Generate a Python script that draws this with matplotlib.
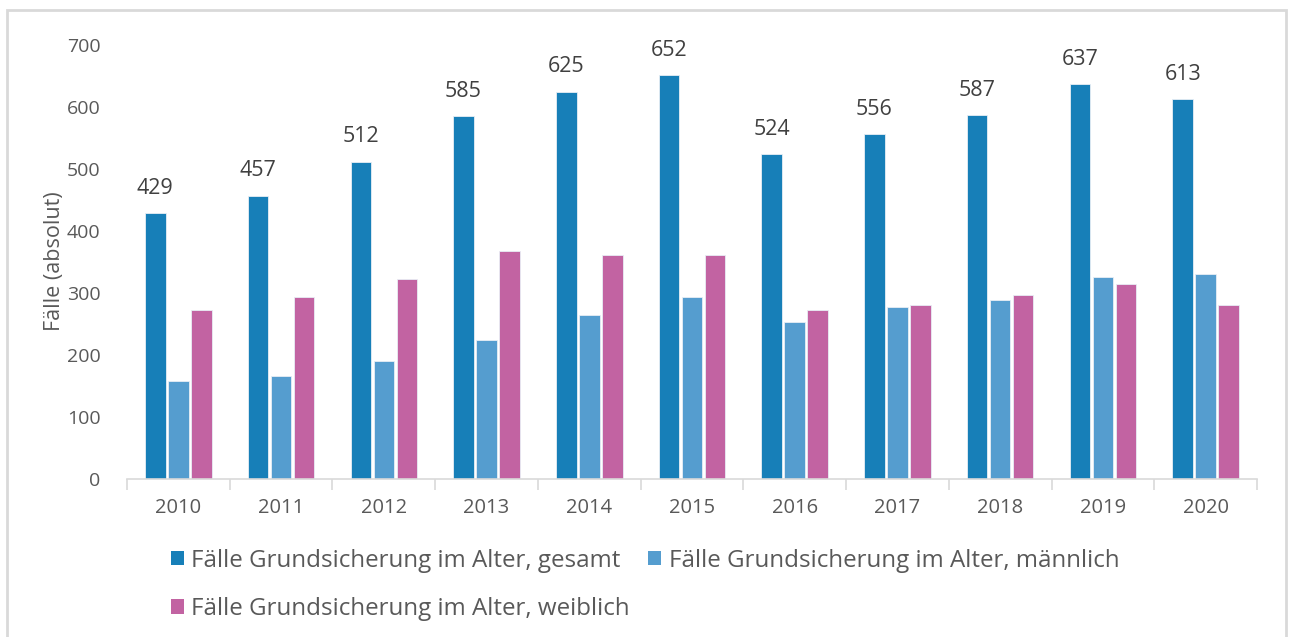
import matplotlib
matplotlib.use("Agg")
import matplotlib.pyplot as plt
from matplotlib.patches import Rectangle, Patch
import numpy as np

years = ["2010", "2011", "2012", "2013", "2014", "2015", "2016", "2017", "2018", "2019", "2020"]
gesamt = [429, 457, 512, 585, 625, 652, 524, 556, 587, 637, 613]
maennlich = [158, 166, 191, 224, 264, 293, 253, 277, 289, 326, 330]
weiblich = [272, 293, 322, 367, 362, 362, 273, 281, 297, 314, 281]
series_names = ["Fälle Grundsicherung im Alter, gesamt",
                "Fälle Grundsicherung im Alter, männlich",
                "Fälle Grundsicherung im Alter, weiblich"]
colors = ["#177FB8", "#559DCF", "#C263A2"]

plt.rcParams['font.family'] = ['Open Sans', 'DejaVu Sans']
W, H = 1293, 637
fig = plt.figure(figsize=(W / 100, H / 100), dpi=100)
ax = fig.add_axes([127 / W, 1 - 479 / H, (1257 - 127) / W, (479 - 45) / H])

x = np.arange(len(years))
bw = 0.2
step = 0.224
for i, (vals, c) in enumerate(zip([gesamt, maennlich, weiblich], colors)):
    ax.bar(x + (i - 1) * step, vals, width=bw, color=c, edgecolor="#e8eef5", linewidth=0.6, zorder=2)

for xi, v in zip(x, gesamt):
    ax.text(xi - step, v + 23, str(v), ha="center", va="bottom", fontsize=15.5, color="#404040")

ax.set_xlim(-0.5, len(years) - 0.5)
ax.set_ylim(0, 700)
ax.set_yticks(range(0, 701, 100))
ax.set_xticks(x)
ax.set_xticklabels(years)
ax.set_xticks(np.arange(-0.5, len(years), 1), minor=True)
ax.tick_params(axis="x", which="major", length=0, pad=14, labelsize=14.5, labelcolor="#595959")
ax.tick_params(axis="x", which="minor", length=8, color="#D9D9D9", width=1.2)
ax.tick_params(axis="y", length=0, pad=19, labelsize=14, labelcolor="#595959")
for s in ["top", "right", "left"]:
    ax.spines[s].set_visible(False)
ax.spines["bottom"].set_color("#D9D9D9")
ax.spines["bottom"].set_linewidth(1.2)
ax.set_ylabel("Fälle (absolut)", fontsize=15.5, color="#595959")
ax.yaxis.set_label_coords(-0.055, 0.501)

handles = [Patch(facecolor=c, edgecolor="none") for c in colors]
order = [0, 2, 1]
fig.legend([handles[k] for k in order], [series_names[k] for k in order],
           loc="upper left", bbox_to_anchor=(149 / W, 1 - 527 / H), ncol=2,
           frameon=False, fontsize=17.4, handlelength=0.55, handleheight=0.55,
           handletextpad=0.3, columnspacing=0.75, labelspacing=1.0, labelcolor="#595959")

fig.add_artist(Rectangle((7 / W, -0.05), (1286 - 7) / W, 1 - 10 / H + 0.05, transform=fig.transFigure,
                         fill=False, edgecolor="#D9D9D9", linewidth=2))

fig.savefig("out.png", dpi=100)
